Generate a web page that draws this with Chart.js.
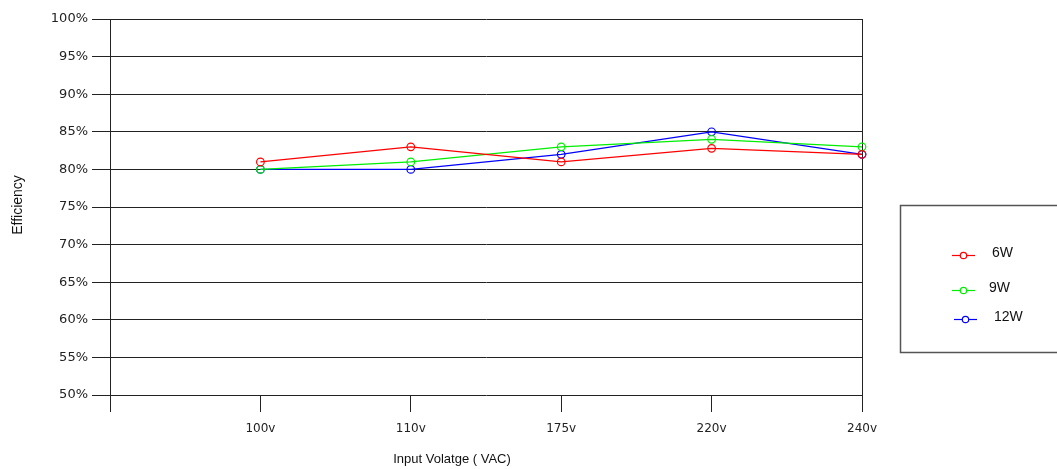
<!DOCTYPE html>
<html>
<head>
<meta charset="utf-8">
<script src="https://cdn.jsdelivr.net/npm/chart.js@4.4.0/dist/chart.umd.min.js"></script>
<style>
  html, body { margin: 0; padding: 0; background: #fff; }
  #wrap { width: 1057px; height: 469px; position: relative; }
</style>
</head>
<body>
<div id="wrap"><canvas id="effChart"></canvas></div>
<script>
(function () {
    // -------- Data --------
    const voltages = ["100v", "110v", "175v", "220v", "240v"];
    const eff6W = [81, 83, 81, 82.8, 82];
    const eff9W = [80, 81, 83, 84, 83];
    const eff12W = [80, 80, 82, 85, 82];
    const seriesNames = ["6W", "9W", "12W"];
    const seriesColors = ["#ff0000", "#00ee00", "#0000ff"];
    const yTicks = [50, 55, 60, 65, 70, 75, 80, 85, 90, 95, 100];

    const TICK_FONT = { family: "DejaVu Sans", size: 12 };
    const Y_TICK_FONT = { family: "DejaVu Sans", size: 13 };
    const TITLE_FONT = "13px 'Liberation Sans', Arial, sans-serif";

    // first slot of the x axis is the y axis itself (no label)
    const labels = [""].concat(voltages);
    const mk = (name, vals, color) => ({
        label: name,
        data: [null].concat(vals),
        borderColor: color,
        backgroundColor: "transparent",
        borderWidth: 1.3,
        pointRadius: 3.8,
        pointHoverRadius: 3.8,
        pointBorderWidth: 1.2,
        pointBackgroundColor: "transparent",
        pointBorderColor: color,
        tension: 0
    });
    const allSeries = [eff6W, eff9W, eff12W];
    const datasets = allSeries.map((v, i) => mk(seriesNames[i], v, seriesColors[i]));

    // axis titles + legend box, drawn on canvas
    const extras = {
        id: "extras",
        afterDraw(chart) {
            const c = chart.ctx;
            c.save();
            c.fillStyle = "#111";
            c.font = TITLE_FONT;
            c.textAlign = "center";
            c.textBaseline = "middle";
            c.fillText("Input Volatge ( VAC)", 452, 459);
            c.font = "14px 'Liberation Sans', Arial, sans-serif";
            c.translate(18, 205);
            c.rotate(-Math.PI / 2);
            c.fillText("Efficiency", 0, 0);
            c.restore();

            // legend
            c.save();
            c.strokeStyle = "#555";
            c.lineWidth = 1.5;
            c.strokeRect(900.5, 205.5, 170, 147);
            const rows = [255, 290, 319];
            const lineX = [[952, 975], [952, 975], [954, 977]];
            const textX = [992, 989, 994];
            c.font = "14px 'Liberation Sans', Arial, sans-serif";
            c.textAlign = "left";
            c.textBaseline = "middle";
            datasets.forEach((ds, i) => {
                const y = rows[i];
                c.strokeStyle = ds.borderColor;
                c.lineWidth = 1.2;
                c.beginPath();
                c.moveTo(lineX[i][0], y + 0.5);
                c.lineTo(lineX[i][1], y + 0.5);
                c.stroke();
                c.beginPath();
                c.arc((lineX[i][0] + lineX[i][1]) / 2, y + 0.5, 3.2, 0, Math.PI * 2);
                c.fillStyle = "#fff";
                c.fill();
                c.stroke();
                c.fillStyle = "#111";
                c.fillText(ds.label, textX[i], y - 2);
            });
            c.restore();
        }
    };

    const ctx = document.getElementById("effChart");
    new Chart(ctx, {
        type: "line",
        data: { labels: labels, datasets: datasets },
        options: {
            responsive: true,
            maintainAspectRatio: false,
            animation: false,
            events: [],
            layout: { padding: { top: 19, right: 195, left: 0, bottom: 0 } },
            plugins: { legend: { display: false }, tooltip: { enabled: false } },
            scales: {
                x: {
                    type: "category",
                    offset: false,
                    afterFit: (s) => { s.height = 74; },
                    border: { display: false },
                    grid: {
                        drawOnChartArea: true,
                        color: (c) => (c.index === labels.length - 1 ? "#222" : "transparent"),
                        tickColor: "#222",
                        tickLength: 17,
                        lineWidth: 1
                    },
                    ticks: {
                        color: "#222",
                        font: TICK_FONT,
                        padding: 10,
                        maxRotation: 0,
                        autoSkip: false
                    }
                },
                y: {
                    min: 50,
                    max: 100,
                    afterFit: (s) => { s.width = 110; },
                    afterBuildTicks: (s) => { s.ticks = yTicks.map(v => ({ value: v })); },
                    border: { display: true, color: "#222", width: 1 },
                    grid: {
                        color: "#222",
                        tickColor: "#222",
                        tickLength: 18,
                        lineWidth: 1
                    },
                    ticks: {
                        color: "#222",
                        font: Y_TICK_FONT,
                        padding: 4,
                        callback: (v) => v + "%"
                    }
                }
            }
        },
        plugins: [extras]
    });
})();
</script>
</body>
</html>
